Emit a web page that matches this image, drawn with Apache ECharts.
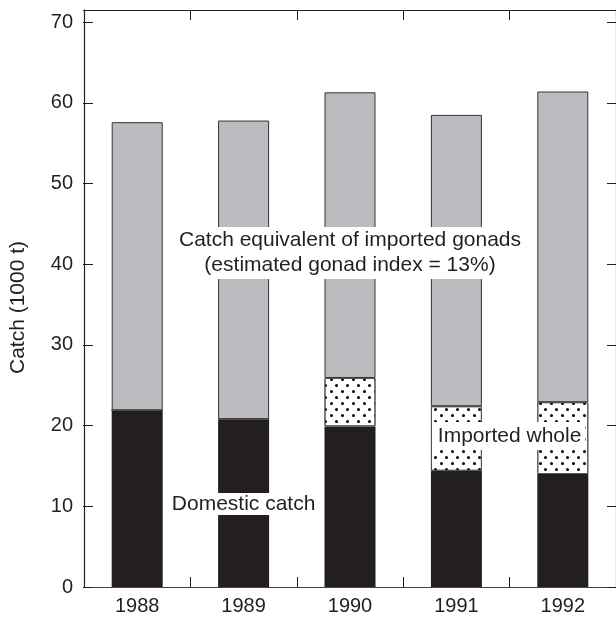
<!DOCTYPE html>
<html>
<head>
<meta charset="utf-8">
<script src="https://cdn.jsdelivr.net/npm/echarts@6/dist/echarts.min.js"></script>
<style>
html,body{margin:0;padding:0;background:#fff;}
#chart{width:616px;height:617px;}
</style>
</head>
<body>
<div id="chart"></div>
<script>
const years = ['1988', '1989', '1990', '1991', '1992'];
const domesticCatch = [21.9, 20.8, 19.9, 14.4, 14.0];
const importedWhole = [0, 0, 6.0, 8.0, 8.9];
const gonadEquivalent = [35.7, 37.0, 35.4, 36.1, 38.5];
const yTicks = [0, 10, 20, 30, 40, 50, 60, 70];

const FONT = '"Liberation Sans", Arial, Helvetica, sans-serif';
const INK = '#231f20';

const GRID = {left: 84, right: -1, top: 10, bottom: 30};
const PLOT_W = 616 - GRID.left - GRID.right;
const PLOT_H = 617 - GRID.top - GRID.bottom;

const chart = echarts.init(document.getElementById('chart'), null, {renderer: 'canvas'});

const tick = {show: true, inside: false, length: 10, alignWithLabel: false, lineStyle: {color: INK, width: 1}};
const noLine = {show: false, onZero: false};
const line = (c) => ({show: true, onZero: false, lineStyle: {color: c, width: 1.2}});

function catAxis(pos, extra) {
  return Object.assign({type: 'category', data: years, position: pos,
    axisLine: noLine, axisTick: {show: false}, axisLabel: {show: false}, splitLine: {show: false}}, extra);
}
function valAxis(pos, extra) {
  return Object.assign({type: 'value', min: yTicks[0], max: 71.5, interval: 10, position: pos,
    axisLine: noLine, axisTick: {show: false}, axisLabel: {show: false}, splitLine: {show: false}}, extra);
}

const option = {
  animation: false,
  backgroundColor: '#fff',
  grid: Object.assign({containLabel: false}, GRID),
  xAxis: [
    catAxis('bottom', {axisLine: line('#444'),
      axisLabel: {show: true, color: INK, fontFamily: FONT, fontSize: 20, margin: 9}}),
    catAxis('top', {axisLine: line(INK)}),
    // tick-only axes flipped onto the opposite edge so their ticks point into the plot
    catAxis('top', {offset: -PLOT_H, axisTick: tick}),
    catAxis('bottom', {offset: -PLOT_H, axisTick: tick})
  ],
  yAxis: [
    valAxis('left', {axisLine: line(INK),
      axisLabel: {show: true, color: INK, fontFamily: FONT, fontSize: 20, margin: 11, showMaxLabel: false,
        formatter: v => (yTicks.indexOf(v) >= 0 ? String(v) : '')}}),
    valAxis('right', {axisLine: line(INK)}),
    valAxis('right', {offset: -PLOT_W, axisTick: tick}),
    valAxis('left', {offset: -PLOT_W, axisTick: tick})
  ],
  series: [{
    name: 'Domestic catch', type: 'bar', stack: 'catch', barWidth: 51,
    data: domesticCatch,
    itemStyle: {color: INK}
  }, {
    name: 'Imported whole', type: 'bar', stack: 'catch', barWidth: 51,
    data: importedWhole,
    itemStyle: {
      color: '#ffffff', borderColor: '#555', borderWidth: 1,
      decal: {
        symbol: 'circle', symbolSize: 1, color: '#000',
        dashArrayX: [[2.4, 7.6], [0, 5, 2.4, 2.6]],
        dashArrayY: [2.4, 2.6]
      }
    }
  }, {
    name: 'Catch equivalent of imported gonads', type: 'bar', stack: 'catch', barWidth: 51,
    data: gonadEquivalent,
    itemStyle: {color: '#bbbcc0', borderColor: '#333', borderWidth: 1}
  }]
};
chart.setOption(option);

function px(cat, val) { return chart.convertToPixel({xAxisIndex: 0, yAxisIndex: 0}, [cat, val]); }

const pGonad = px('1990', 41.4);
const pDom = px('1989', 10.3);
const p91 = px('1991', 18.7), p92 = px('1992', 18.7);
const pWhole = [(p91[0] + p92[0]) / 2, p91[1]];
const pTitle = [18.5, 307.5];

chart.setOption({
  graphic: [{
    type: 'text', x: pGonad[0], y: pGonad[1], z: 100,
    style: {text: 'Catch equivalent of imported gonads\n(estimated gonad index = 13%)',
      fill: INK, font: '21px ' + FONT, align: 'center', verticalAlign: 'middle',
      lineHeight: 25, backgroundColor: '#fff', padding: [1, 6]}
  }, {
    type: 'text', x: pDom[0], y: pDom[1], z: 100,
    style: {text: 'Domestic catch', fill: INK, font: '21px ' + FONT, align: 'center', verticalAlign: 'middle',
      lineHeight: 22, backgroundColor: '#fff', padding: [0, 4]}
  }, {
    type: 'text', x: pWhole[0], y: pWhole[1], z: 100,
    style: {text: 'Imported whole', fill: INK, font: '21px ' + FONT, align: 'center', verticalAlign: 'middle',
      lineHeight: 24, backgroundColor: '#fff', padding: [2, 4]}
  }, {
    type: 'text', x: pTitle[0], y: pTitle[1], rotation: Math.PI / 2, z: 100,
    style: {text: 'Catch (1000 t)', fill: INK, font: '21px ' + FONT, align: 'center', verticalAlign: 'middle'}
  }]
});
</script>
</body>
</html>
